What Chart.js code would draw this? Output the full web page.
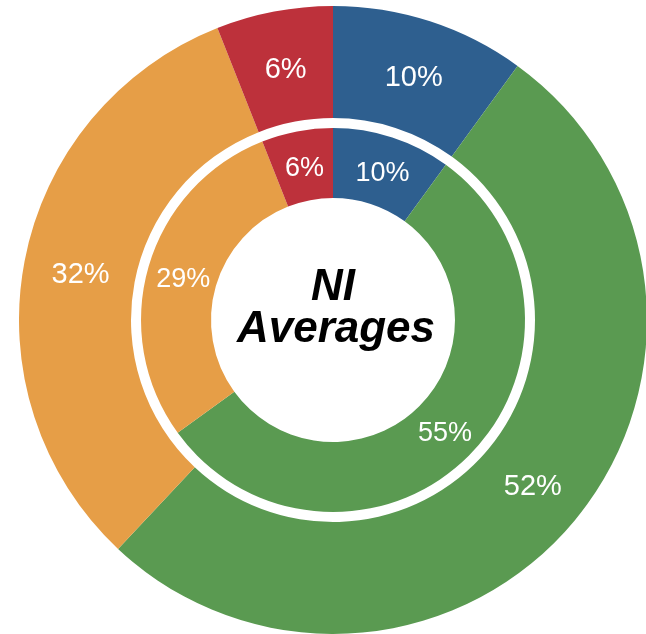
<!DOCTYPE html>
<html>
<head>
<meta charset="utf-8">
<script src="https://cdn.jsdelivr.net/npm/chart.js"></script>
<style>
  html, body { margin: 0; padding: 0; background: #fff; overflow: hidden; }
  body { width: 646px; height: 634px; position: relative; }
  .chart-wrap { position: absolute; left: 19px; top: 6px; width: 628px; height: 628px; }
</style>
</head>
<body>
<div class="chart-wrap"><canvas id="niChart"></canvas></div>
<script>
const categories = ['Blue', 'Green', 'Orange', 'Red'];
const outerValues = [10, 52, 32, 6];
const innerValues = [10, 55, 29, 6];
const sliceColors = ['#2e5f8f', '#5a9a51', '#e69e47', '#bd313b'];
const centerLines = ['NI', 'Averages'];

// white percentage text in the middle of each slice
const sliceLabels = {
  id: 'sliceLabels',
  afterDatasetsDraw(chart) {
    const ctx = chart.ctx;
    ctx.save();
    ctx.fillStyle = '#fff';
    ctx.textAlign = 'center';
    ctx.textBaseline = 'middle';
    chart.data.datasets.forEach((ds, i) => {
      if (!ds.showLabels) return;
      ctx.font = ds.labelFont;
      chart.getDatasetMeta(i).data.forEach((arc, j) => {
        const p = arc.tooltipPosition();
        ctx.fillText(ds.data[j] + '%', p.x + 1, p.y + 3);
      });
    });
    ctx.restore();
  }
};

const centerText = {
  id: 'centerText',
  afterDraw(chart) {
    const ctx = chart.ctx;
    const arc = chart.getDatasetMeta(0).data[0];
    ctx.save();
    ctx.fillStyle = '#000';
    ctx.textAlign = 'center';
    ctx.textBaseline = 'alphabetic';
    ctx.font = 'italic bold 44px "Liberation Sans", Arial, sans-serif';
    ctx.fillText(centerLines[0], arc.x, arc.y - 20);
    ctx.fillText(centerLines[1], arc.x + 3, arc.y + 22);
    ctx.restore();
  }
};

new Chart(document.getElementById('niChart'), {
  type: 'doughnut',
  data: {
    labels: categories,
    datasets: [
      {
        data: outerValues,
        backgroundColor: sliceColors,
        weight: 112,
        showLabels: true,
        labelFont: '29px "Liberation Sans", Arial, sans-serif'
      },
      {
        // empty ring that makes the white gap between the two doughnuts
        data: [1],
        backgroundColor: ['rgba(0,0,0,0)'],
        weight: 10
      },
      {
        data: innerValues,
        backgroundColor: sliceColors,
        weight: 70,
        showLabels: true,
        labelFont: '27px "Liberation Sans", Arial, sans-serif'
      }
    ]
  },
  options: {
    responsive: true,
    maintainAspectRatio: false,
    animation: false,
    cutout: '38.85%',
    borderWidth: 0,
    hoverOffset: 0,
    offset: 0,
    layout: { padding: 0 },
    plugins: {
      legend: { display: false },
      tooltip: { enabled: false }
    }
  },
  plugins: [sliceLabels, centerText]
});
</script>
</body>
</html>
